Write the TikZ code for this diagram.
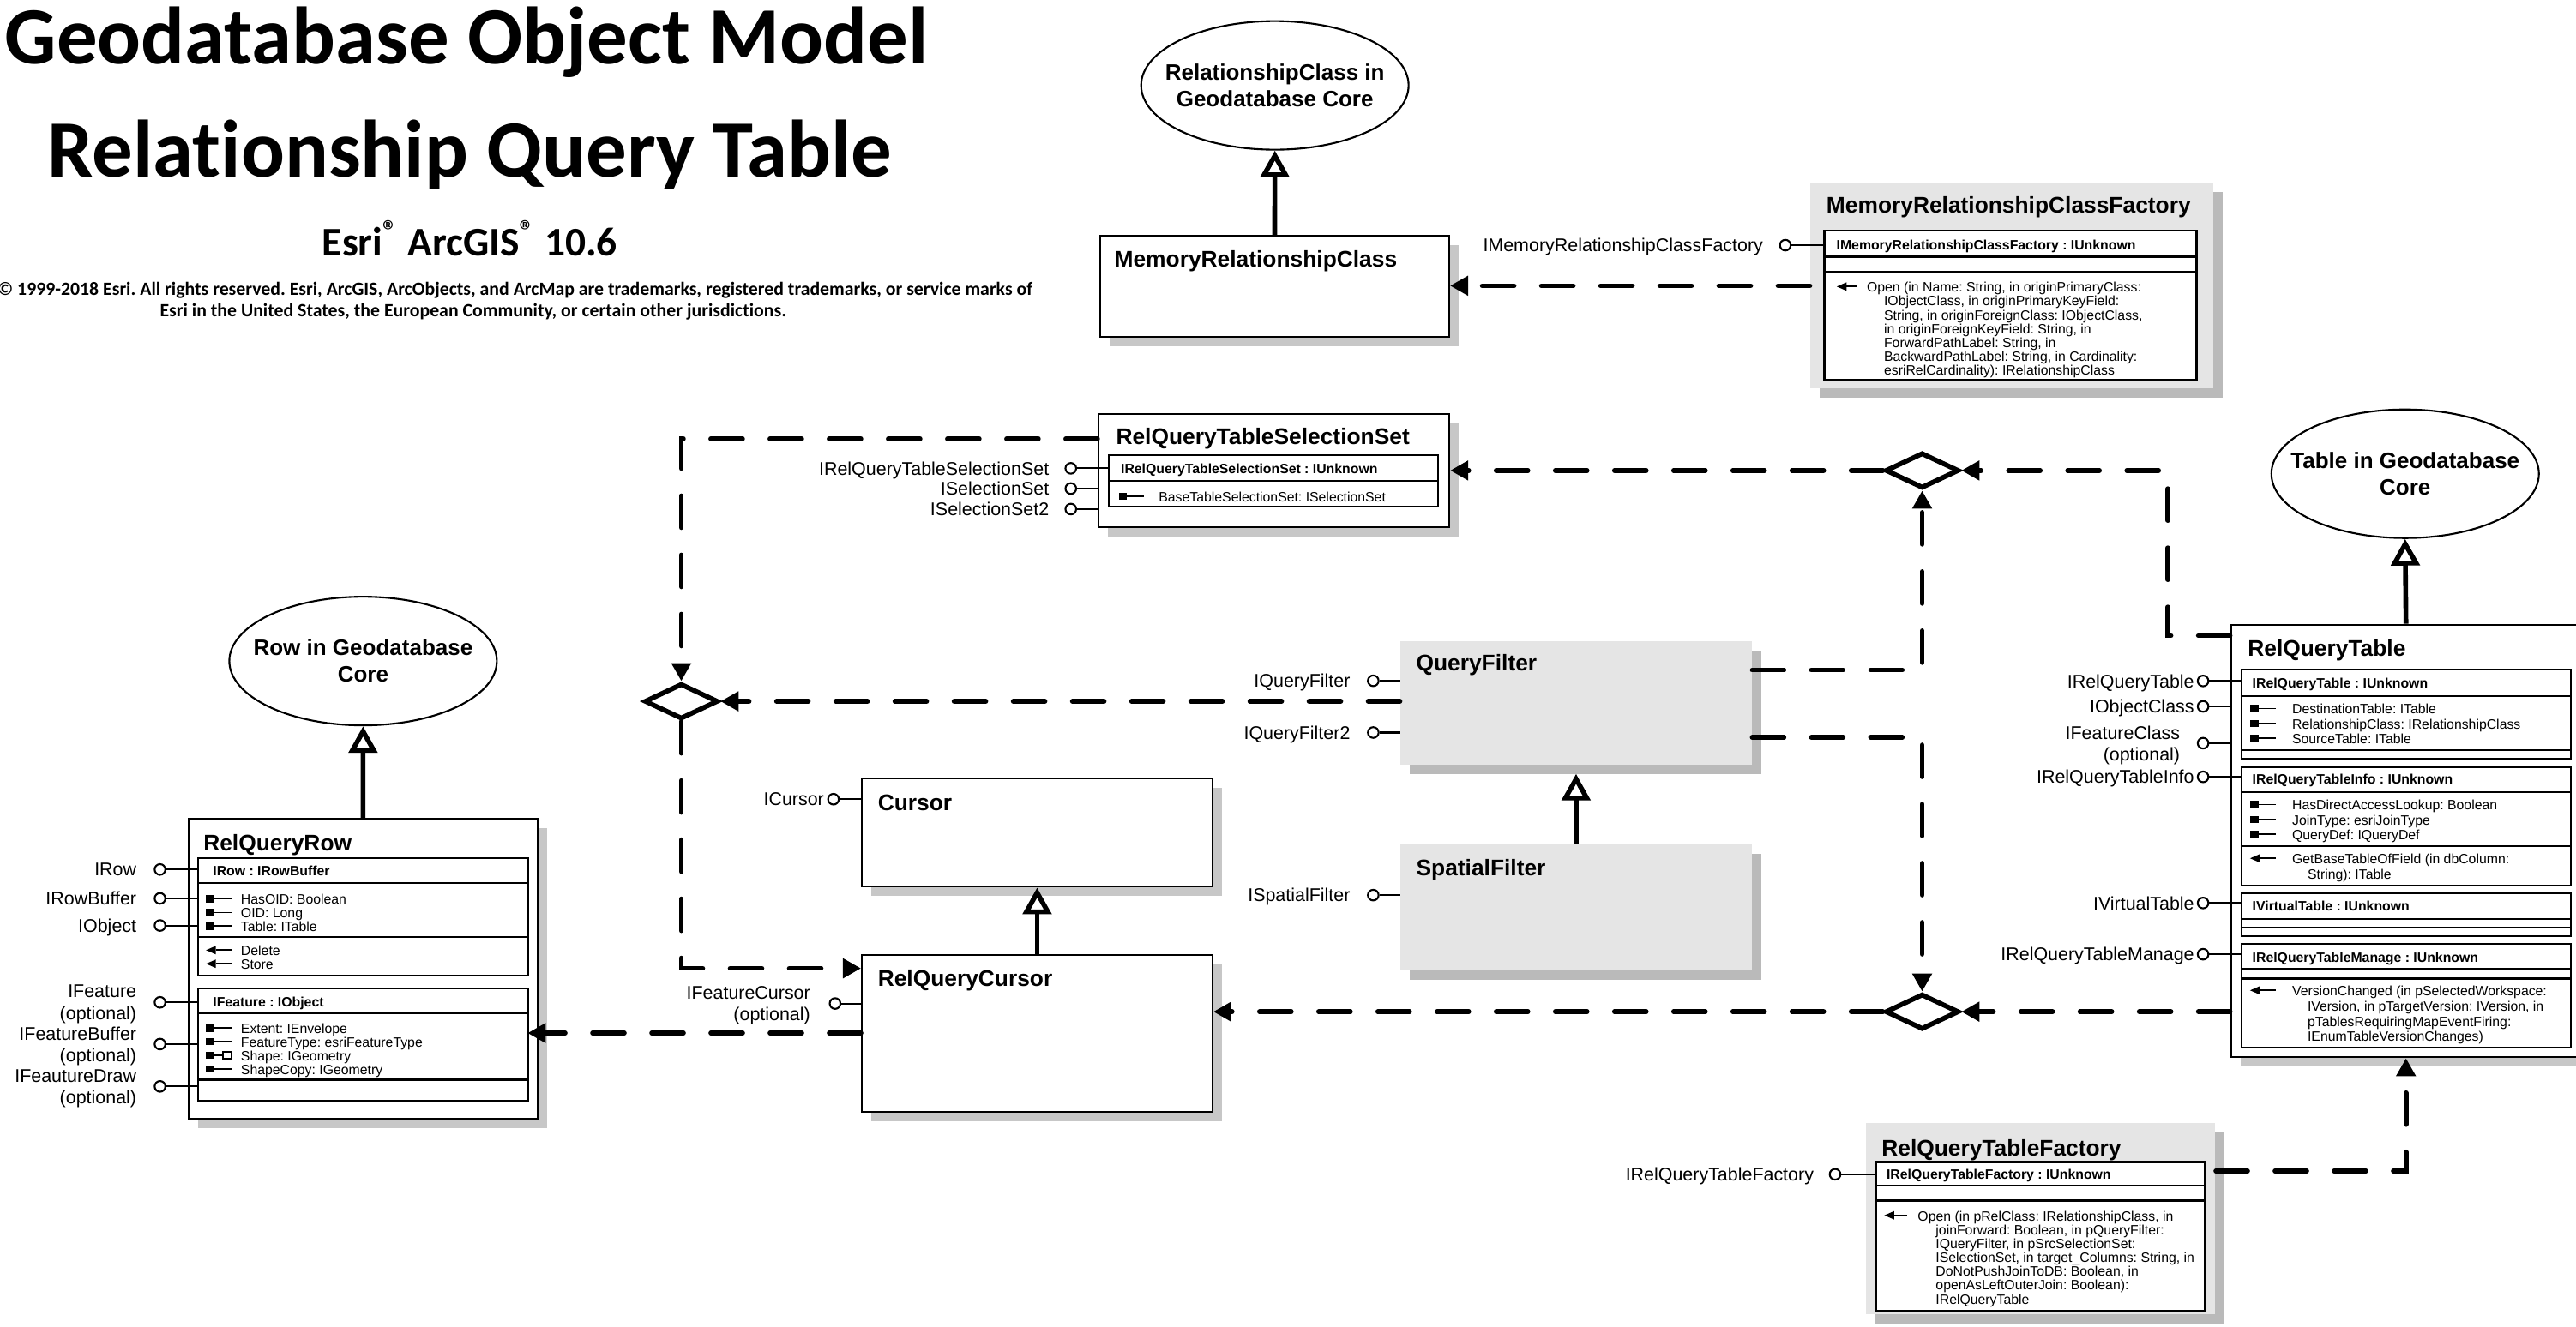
\documentclass[tikz,border=0pt]{standalone}
\usepackage{fontspec}
\setmainfont{Liberation Sans}
\newfontfamily\titlefont[Ligatures=NoCommon]{Carlito}
\usetikzlibrary{arrows.meta,shapes.geometric,fit,shadows}
\frenchspacing

\tikzset{
  classbox/.style={draw, fill=white, line width=.6pt, inner sep=0,
    drop shadow={shadow xshift=1.1mm, shadow yshift=-1.1mm, fill=black!22, opacity=1}},
  graybox/.style={fill=black!10, inner sep=0,
    drop shadow={shadow xshift=1.1mm, shadow yshift=-1.1mm, fill=black!27, opacity=1}},
  tbl/.style={draw, fill=white, line width=.6pt, inner sep=0},
  rule/.style={line width=.6pt},
  clsname/.style={font=\bfseries\fontsize{7.5}{9}\selectfont, anchor=base west, inner sep=0},
  hdr/.style={font=\bfseries\fontsize{4.5}{5}\selectfont, anchor=base west, inner sep=0},
  membertext/.style={font=\fontsize{4.5}{#1}\selectfont, anchor=north west, align=left, inner sep=0},
  membertext/.default=4.6,
  core/.style={ellipse, draw, fill=white, line width=.6pt, minimum width=31.2mm, minimum height=15mm, inner sep=0},
  coretext/.style={font=\bfseries\fontsize{7.4}{8.8}\selectfont, align=center, inner sep=0},
  lolli/.style={circle, draw, fill=white, line width=.6pt, minimum size=1.25mm, inner sep=0},
  lbl/.style={font=\fontsize{6.1}{7.2}\selectfont, align=right, inner sep=0, text depth=0pt},
  iface/.style={line width=.6pt},
  junction/.style={diamond, draw, fill=white, line width=1.6pt, minimum width=8.6mm, minimum height=4.15mm, inner sep=0},
  dep/.style={line width=1.6pt, line cap=round, dash pattern=on 3.7mm off 3.2mm, -{Triangle[length=2.1mm, width=2.2mm]}},
  gen/.style={line width=1.6pt, -{Triangle[open, length=3.1mm, width=3.3mm]}},
  headline/.style={font=\titlefont\bfseries\fontsize{27}{30}\selectfont, anchor=base, inner sep=0},
  subline/.style={font=\titlefont\bfseries\fontsize{13.5}{15}\selectfont, anchor=base, inner sep=0},
  copyline/.style={font=\titlefont\bfseries\fontsize{6.2}{7}\selectfont, anchor=base, inner sep=0},
  pics/propicon/.style={code={\fill (0,-2.2) rectangle (5,2.2); \draw[line width=.5pt] (5,0) -- (15.5,0);}},
  pics/shapeicon/.style={code={\fill (0,-2.2) rectangle (5,2.2); \draw[line width=.5pt] (5,0) -- (10.5,0);
      \draw[line width=.5pt] (10.5,-2.2) rectangle (15.5,2.2);}},
  pics/methicon/.style={code={\fill (0,0) -- (6,-2.6) -- (6,2.6) -- cycle; \draw[line width=.5pt] (6,0) -- (#1,0);}},
  pics/methicon/.default=15.5
}

\begin{document}
\begin{tikzpicture}[x=0.1916mm, y=-0.1916mm]
  \useasboundingbox (0,0) rectangle (1568,808);

  % heading
  \node[headline] (head1) at (284,39) {Geodatabase Object Model};
  \node[headline] (head2) at (286,108) {Relationship Query Table};
  \node[subline] (head3) at (286,156) {Esri\textsuperscript{®} ArcGIS\textsuperscript{®} 10.6};
  \node[copyline, anchor=base east] (copy1) at (629,180) {© 1999-2018 Esri. All rights reserved. Esri, ArcGIS, ArcObjects, and ArcMap are trademarks, registered trademarks, or service marks of};
  \node[copyline] (copy2) at (288,193) {Esri in the United States, the European Community, or certain other jurisdictions.};

  % core classes
  \node[core, label={[coretext]center:{RelationshipClass in\\Geodatabase Core}}] (relcore) at (776,52) {};
  \node[core, label={[coretext]center:{Row in Geodatabase\\Core}}] (rowcore) at (221,402.5) {};
  \node[core, label={[coretext]center:{Table in Geodatabase\\Core}}] (tblcore) at (1464,288.5) {};

  % MemoryRelationshipClass
  \node[classbox, fit={(669.7,143.5) (882.1,205.3)}] (mrc) {};
  \node[clsname] (mrcname) at (678,162.7) {MemoryRelationshipClass};
  \draw[gen] (mrc.north) -- (relcore.south);

  % MemoryRelationshipClassFactory
  \node[graybox, fit={(1102,111.4) (1347,236.6)}] (mrcf) {};
  \node[clsname] (mrcfname) at (1111.4,129.6) {MemoryRelationshipClassFactory};
  \node[tbl, fit={(1110.5,140.6) (1337,231.4)}] (mrcft) {};
  \draw[rule] (mrcft.west |- 0,156.3) -- (mrcft.east |- 0,156.3);
  \draw[rule] (mrcft.west |- 0,165.3) -- (mrcft.east |- 0,165.3);
  \node[hdr] (mrcfh) at (1117.5,152.2) {IMemoryRelationshipClassFactory : IUnknown};
  \pic at (1118,174.5) {methicon=12.5};
  \node[membertext=4.6] (mrcfm) at (1136,171.5) {Open (in Name: String, in originPrimaryClass:\\
    \hspace*{2mm}IObjectClass, in originPrimaryKeyField:\\
    \hspace*{2mm}String, in originForeignClass: IObjectClass,\\
    \hspace*{2mm}in originForeignKeyField: String, in\\
    \hspace*{2mm}ForwardPathLabel: String, in\\
    \hspace*{2mm}BackwardPathLabel: String, in Cardinality:\\
    \hspace*{2mm}esriRelCardinality): IRelationshipClass};
  \node[lolli, label={[lbl, label distance=1.8mm]left:IMemoryRelationshipClassFactory}] (imrcf) at (1086.7,149.3) {};
  \draw[iface] (imrcf) -- (mrcft.west |- imrcf);
  \draw[dep] (mrcf.west |- 0,174) -- (mrc.east |- 0,174);

  % RelQueryTableSelectionSet
  \node[classbox, fit={(668.6,252) (882.2,321)}] (rqtss) {};
  \node[clsname] (rqtssname) at (679,270.7) {RelQueryTableSelectionSet};
  \node[tbl, fit={(675,277.2) (875.5,308.7)}] (rqtsst) {};
  \draw[rule] (rqtsst.west |- 0,292.6) -- (rqtsst.east |- 0,292.6);
  \node[hdr] (rqtssh) at (681.9,288.2) {IRelQueryTableSelectionSet : IUnknown};
  \pic at (681,302.2) {propicon};
  \node[membertext] (rqtssp) at (705,299.2) {BaseTableSelectionSet: ISelectionSet};
  \node[lolli, label={[lbl, label distance=1.75mm]left:IRelQueryTableSelectionSet}] (irqtss) at (651.8,285.2) {};
  \node[lolli, label={[lbl, label distance=1.75mm]left:ISelectionSet}] (isel) at (651.8,297.5) {};
  \node[lolli, label={[lbl, label distance=1.75mm]left:ISelectionSet2}] (isel2) at (651.8,310) {};
  \draw[iface] (irqtss) -- (rqtsst.west |- irqtss);
  \draw[iface] (isel) -- (rqtss.west |- isel);
  \draw[iface] (isel2) -- (rqtss.west |- isel2);

  % junctions
  \node[junction] (dleft) at (414.7,427) {};
  \node[junction] (dtop) at (1170,286.5) {};
  \node[junction] (dbot) at (1170,616) {};

  % QueryFilter and SpatialFilter
  \node[graybox, fit={(852.5,390.2) (1066.2,465.6)}] (qf) {};
  \node[clsname] (qfname) at (861.7,408.6) {QueryFilter};
  \node[graybox, fit={(852.5,514.1) (1066.2,590.8)}] (spf) {};
  \node[clsname] (spfname) at (861.7,533) {SpatialFilter};
  \draw[gen, shorten >=1mm] (spf.north) -- (qf.south);
  \node[lolli, label={[lbl, label distance=1.9mm]left:IQueryFilter}] (iqf) at (835.9,414.5) {};
  \node[lolli, label={[lbl, label distance=1.9mm]left:IQueryFilter2}] (iqf2) at (835.9,446) {};
  \node[lolli, label={[lbl, label distance=1.9mm]left:ISpatialFilter}] (ispf) at (835.9,545) {};
  \draw[iface] (iqf) -- (qf.west |- iqf);
  \draw[iface] (iqf2) -- (qf.west |- iqf2);
  \draw[iface] (ispf) -- (spf.west |- ispf);

  % Cursor and RelQueryCursor
  \node[classbox, fit={(524.6,474) (738,539.9)}] (cursor) {};
  \node[clsname] (cursorname) at (534,493.5) {Cursor};
  \node[classbox, fit={(524.6,581.3) (738,677)}] (rqc) {};
  \node[clsname] (rqcname) at (534,600.5) {RelQueryCursor};
  \draw[gen] (rqc.north) -- (cursor.south);
  \node[lolli, label={[lbl, label distance=.3mm]left:ICursor}] (icur) at (507.3,486.6) {};
  \node[lolli, label={[lbl, label distance=2.1mm]left:{IFeatureCursor\\(optional)}}] (ifcur) at (508.3,611) {};
  \draw[iface] (icur) -- (cursor.west |- icur);
  \draw[iface] (ifcur) -- (rqc.west |- ifcur);

  % RelQueryRow
  \node[classbox, fit={(114.6,498.4) (327.4,681)}] (rqrow) {};
  \node[clsname] (rqrowname) at (123.5,518) {RelQueryRow};
  \draw[gen] (rqrow.north) -- (rowcore.south);
  \node[tbl, fit={(120.7,522.6) (321.5,593.8)}] (rqrowt1) {};
  \draw[rule] (rqrowt1.west |- 0,537.6) -- (rqrowt1.east |- 0,537.6);
  \draw[rule] (rqrowt1.west |- 0,570.3) -- (rqrowt1.east |- 0,570.3);
  \node[hdr] (rqrowh1) at (129.3,533.4) {IRow : IRowBuffer};
  \foreach \y in {547.3,555.6,563.9} \pic at (125.4,\y) {propicon};
  \node[membertext=4.52] (rqrowp1) at (146.3,544.3) {HasOID: Boolean\\OID: Long\\Table: ITable};
  \foreach \y in {578.5,586.8} \pic at (125.4,\y) {methicon};
  \node[membertext=4.52] (rqrowm1) at (146.3,575.5) {Delete\\Store};
  \node[tbl, fit={(120.7,601.6) (321.5,670.4)}] (rqrowt2) {};
  \draw[rule] (rqrowt2.west |- 0,616.7) -- (rqrowt2.east |- 0,616.7);
  \draw[rule] (rqrowt2.west |- 0,657.4) -- (rqrowt2.east |- 0,657.4);
  \node[hdr] (rqrowh2) at (129.3,613) {IFeature : IObject};
  \foreach \y in {626,634.3,650.9} \pic at (125.4,\y) {propicon};
  \pic at (125.4,642.6) {shapeicon};
  \node[membertext=4.52] (rqrowp2) at (146.3,623) {Extent: IEnvelope\\FeatureType: esriFeatureType\\Shape: IGeometry\\ShapeCopy: IGeometry};
  \node[lolli, label={[lbl, label distance=1.95mm]left:IRow}] (irow) at (97.4,529.4) {};
  \node[lolli, label={[lbl, label distance=1.95mm]left:IRowBuffer}] (irowbuf) at (97.4,547) {};
  \node[lolli, label={[lbl, label distance=1.95mm]left:IObject}] (iobj) at (97.4,563.5) {};
  \node[lolli, label={[lbl, label distance=1.95mm]left:{IFeature\\(optional)}}] (ifeat) at (97.4,610.3) {};
  \node[lolli, label={[lbl, label distance=1.95mm]left:{IFeatureBuffer\\(optional)}}] (ifeatbuf) at (97.4,635.7) {};
  \node[lolli, label={[lbl, label distance=1.95mm]left:{IFeautureDraw\\(optional)}}] (ifeatdraw) at (97.4,661.5) {};
  \foreach \n in {irow,irowbuf,iobj} \draw[iface] (\n) -- (rqrowt1.west |- \n);
  \foreach \n in {ifeat,ifeatbuf,ifeatdraw} \draw[iface] (\n) -- (rqrowt2.west |- \n);

  % RelQueryTable
  \node[classbox, fit={(1358,380.3) (1571,643.8)}] (rqt) {};
  \node[clsname] (rqtname) at (1367.9,399.8) {RelQueryTable};
  \draw[gen] (rqt.north) -- (tblcore.south);
  \node[tbl, fit={(1364.4,407.6) (1564.8,462)}] (rqtt1) {};
  \draw[rule] (rqtt1.west |- 0,423.9) -- (rqtt1.east |- 0,423.9);
  \draw[rule] (rqtt1.west |- 0,456.9) -- (rqtt1.east |- 0,456.9);
  \node[hdr] (rqth1) at (1370.7,418.8) {IRelQueryTable : IUnknown};
  \foreach \y in {431.4,440.5,449.6} \pic at (1369.6,\y) {propicon};
  \node[membertext=4.96] (rqtp1) at (1394.9,428.4) {DestinationTable: ITable\\RelationshipClass: IRelationshipClass\\SourceTable: ITable};
  \node[tbl, fit={(1364.4,467.3) (1564.8,539.2)}] (rqtt2) {};
  \draw[rule] (rqtt2.west |- 0,482.3) -- (rqtt2.east |- 0,482.3);
  \draw[rule] (rqtt2.west |- 0,515.3) -- (rqtt2.east |- 0,515.3);
  \node[hdr] (rqth2) at (1370.7,477.2) {IRelQueryTableInfo : IUnknown};
  \foreach \y in {489.9,499,508} \pic at (1369.6,\y) {propicon};
  \node[membertext=4.96] (rqtp2) at (1394.9,486.9) {HasDirectAccessLookup: Boolean\\JoinType: esriJoinType\\QueryDef: IQueryDef};
  \pic at (1369.6,522.6) {methicon};
  \node[membertext=5.2] (rqtm2) at (1394.9,519.6) {GetBaseTableOfField (in dbColumn:\\\hspace*{1.8mm}String): ITable};
  \node[tbl, fit={(1364.4,543.8) (1564.8,569.8)}] (rqtt3) {};
  \draw[rule] (rqtt3.west |- 0,559.4) -- (rqtt3.east |- 0,559.4);
  \draw[rule] (rqtt3.west |- 0,564.6) -- (rqtt3.east |- 0,564.6);
  \node[hdr] (rqth3) at (1370.7,554.5) {IVirtualTable : IUnknown};
  \node[tbl, fit={(1364.4,574.5) (1564.8,637.8)}] (rqtt4) {};
  \draw[rule] (rqtt4.west |- 0,590) -- (rqtt4.east |- 0,590);
  \draw[rule] (rqtt4.west |- 0,595.8) -- (rqtt4.east |- 0,595.8);
  \node[hdr] (rqth4) at (1370.7,585.7) {IRelQueryTableManage : IUnknown};
  \pic at (1369.6,603) {methicon};
  \node[membertext=5.05] (rqtm4) at (1394.9,600) {VersionChanged (in pSelectedWorkspace:\\
    \hspace*{1.8mm}IVersion, in pTargetVersion: IVersion, in\\
    \hspace*{1.8mm}pTablesRequiringMapEventFiring:\\
    \hspace*{1.8mm}IEnumTableVersionChanges)};
  \node[lolli, label={[lbl, label distance=.25mm]left:IRelQueryTable}] (irqt) at (1341,414.6) {};
  \node[lolli, label={[lbl, label distance=.25mm]left:IObjectClass}] (iobjcls) at (1341,430.1) {};
  \node[lolli, label={[lbl, label distance=1.9mm]left:{IFeatureClass\\(optional)}}] (ifcls) at (1341,452.5) {};
  \node[lolli, label={[lbl, label distance=.25mm]left:IRelQueryTableInfo}] (irqtinfo) at (1341,473) {};
  \node[lolli, label={[lbl, label distance=.25mm]left:IVirtualTable}] (ivt) at (1341,549.8) {};
  \node[lolli, label={[lbl, label distance=.25mm]left:IRelQueryTableManage}] (irqtman) at (1341,581) {};
  \draw[iface] (irqt) -- (rqtt1.west |- irqt);
  \draw[iface] (iobjcls) -- (rqt.west |- iobjcls);
  \draw[iface] (ifcls) -- (rqt.west |- ifcls);
  \draw[iface] (irqtinfo) -- (rqtt2.west |- irqtinfo);
  \draw[iface] (ivt) -- (rqtt3.west |- ivt);
  \draw[iface] (irqtman) -- (rqtt4.west |- irqtman);

  % RelQueryTableFactory
  \node[graybox, fit={(1136,684) (1348.4,800)}] (rqtf) {};
  \node[clsname] (rqtfname) at (1145,704) {RelQueryTableFactory};
  \node[tbl, fit={(1142,707.5) (1341.8,798)}] (rqtft) {};
  \draw[rule] (rqtft.west |- 0,722) -- (rqtft.east |- 0,722);
  \draw[rule] (rqtft.west |- 0,731) -- (rqtft.east |- 0,731);
  \node[hdr] (rqtfh) at (1148,718) {IRelQueryTableFactory : IUnknown};
  \pic at (1147,740) {methicon=14};
  \node[membertext=4.6] (rqtfm) at (1167,737) {Open (in pRelClass: IRelationshipClass, in\\
    \hspace*{2.1mm}joinForward: Boolean, in pQueryFilter:\\
    \hspace*{2.1mm}IQueryFilter, in pSrcSelectionSet:\\
    \hspace*{2.1mm}ISelectionSet, in target\_Columns: String, in\\
    \hspace*{2.1mm}DoNotPushJoinToDB: Boolean, in\\
    \hspace*{2.1mm}openAsLeftOuterJoin: Boolean):\\
    \hspace*{2.1mm}IRelQueryTable};
  \node[lolli, label={[lbl, label distance=1.7mm]left:IRelQueryTableFactory}] (irqtf) at (1117,715) {};
  \draw[iface] (irqtf) -- (rqtft.west |- irqtf);

  % dependencies
  \coordinate (rqtbend) at (1319.5,387);
  \draw[dep] (rqtss.west |- 0,267.2) -| (dleft.north);
  \draw[dep] (qf.west |- dleft.east) -- (dleft.east);
  \draw[dep] (dleft.south) |- (rqc.west |- 0,589.6);
  \draw[dep] (dtop.west) -- (rqtss.east |- dtop.west);
  \draw[dep] (rqt.west |- rqtbend) -- (rqtbend) |- (dtop.east);
  \draw[dep] (qf.east |- 0,408) -| (dtop.south);
  \draw[dep] (qf.east |- 0,449) -| (dbot.north);
  \draw[dep] (rqt.west |- dbot.east) -- (dbot.east);
  \draw[dep] (dbot.west) -- (rqc.east |- dbot.west);
  \draw[dep, shorten >=-1.3mm] (rqc.west |- 0,629) -- (rqrow.east |- 0,629);
  \draw[dep] (rqtf.east |- 0,713) -| (rqt.south);
\end{tikzpicture}
\end{document}
